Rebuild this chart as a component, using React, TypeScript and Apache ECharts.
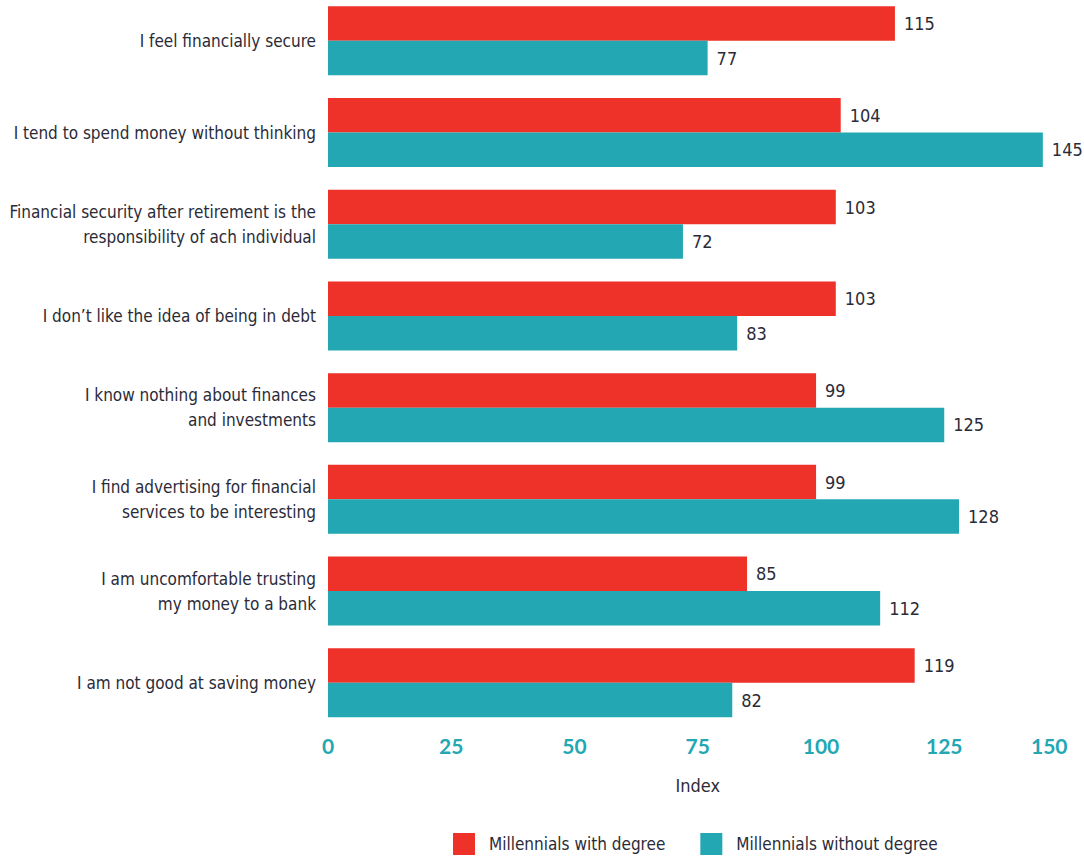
import React, { useEffect, useRef } from "react";
import * as echarts from "echarts";

const categories = [
  "I feel financially secure",
  "I tend to spend money without thinking",
  "Financial security after retirement is the\nresponsibility of ach individual",
  "I don’t like the idea of being in debt",
  "I know nothing about finances\nand investments",
  "I find advertising for financial\nservices to be interesting",
  "I am uncomfortable trusting\nmy money to a bank",
  "I am not good at saving money",
];
const withDegree = [115, 104, 103, 103, 99, 99, 85, 119];
const withoutDegree = [77, 145, 72, 83, 125, 128, 112, 82];
const xTicks = [0, 25, 50, 75, 100, 125, 150];

const RED = "#EE3129";
const TEAL = "#23A7B3";
const CAT_FONT = "'DejaVu Sans Condensed', 'Liberation Sans Narrow', sans-serif";

export default function App() {
  const ref = useRef<HTMLDivElement>(null);
  useEffect(() => {
    if (!ref.current) return;
    const chart = echarts.init(ref.current, null, { renderer: "svg" });
    const labelStyle = {
      show: true,
      position: "right" as const,
      distance: 9,
      color: "#2b2b38",
      fontFamily: CAT_FONT,
      fontSize: 18,
    };
    chart.setOption({
      animation: false,
      backgroundColor: "#ffffff",
      grid: {
        left: 328,
        right: 16.5,
        top: -5,
        height: 733.6,
        containLabel: false,
        outerBoundsMode: "none",
      },
      legend: {
        bottom: 2,
        left: 448,
        itemWidth: 22,
        itemHeight: 22,
        itemGap: 35,
        icon: "rect",
        textStyle: { color: "#2b2b38", fontFamily: CAT_FONT, fontSize: 17, padding: [0, 0, 0, 9] },
        data: ["Millennials with degree", "Millennials without degree"],
      },
      xAxis: {
        type: "value",
        min: xTicks[0],
        max: xTicks[xTicks.length - 1],
        interval: 25,
        axisLine: { show: false },
        axisTick: { show: false },
        splitLine: { show: false },
        axisLabel: {
          color: TEAL,
          fontFamily: "Lato, sans-serif",
          fontWeight: 700,
          fontSize: 21,
          margin: 6,
          alignMaxLabel: "right",
        },
        name: "Index",
        nameLocation: "middle",
        nameGap: 48,
        nameTextStyle: { color: "#2b2b38", fontFamily: CAT_FONT, fontSize: 18 },
      },
      yAxis: {
        type: "category",
        inverse: true,
        data: categories,
        axisLine: { show: false },
        axisTick: { show: false },
        axisLabel: {
          color: "#2b2b38",
          fontFamily: CAT_FONT,
          fontSize: 17,
          lineHeight: 25,
          margin: 12,
          align: "right",
        },
      },
      series: [
        {
          name: "Millennials with degree",
          type: "bar",
          data: withDegree,
          barWidth: 34.5,
          barGap: "0%",
          itemStyle: { color: RED },
          label: labelStyle,
        },
        {
          name: "Millennials without degree",
          type: "bar",
          data: withoutDegree,
          barWidth: 34.5,
          barGap: "0%",
          itemStyle: { color: TEAL },
          label: labelStyle,
        },
      ],
    });
    return () => chart.dispose();
  }, []);
  return (
    <div
      ref={ref}
      style={{ position: "fixed", left: 0, top: 0, width: 1084, height: 862, background: "#fff" }}
    />
  );
}
